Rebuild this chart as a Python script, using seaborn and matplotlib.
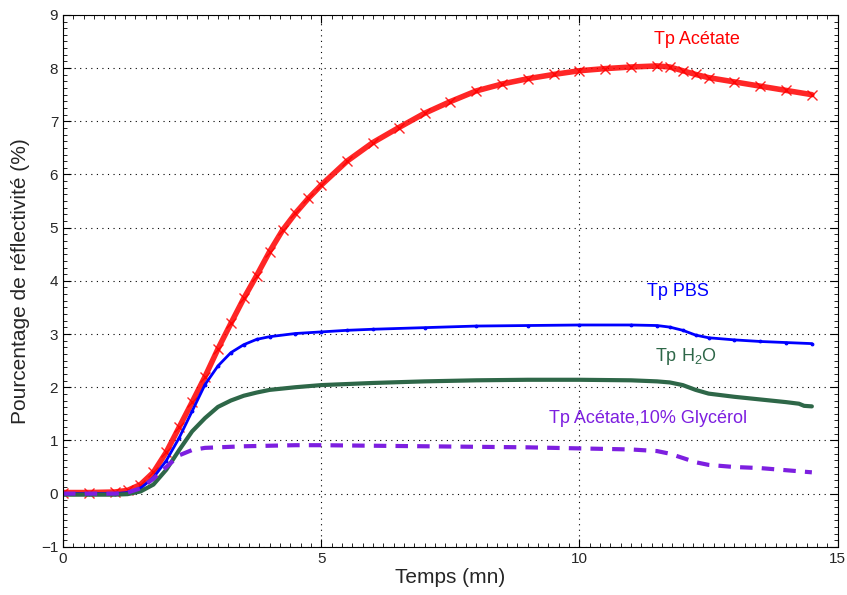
import matplotlib
matplotlib.use('Agg')
import matplotlib.pyplot as plt
import seaborn as sns
from matplotlib.ticker import AutoMinorLocator

# Temps (mn) et pourcentage de réflectivité
t_acetate = [0, 0.5, 1.0, 1.25, 1.5, 1.75, 2.0, 2.25, 2.5, 2.75, 3.0, 3.25, 3.5, 3.75,
             4.0, 4.25, 4.5, 4.75, 5.0, 5.5, 6.0, 6.5, 7.0, 7.5, 8.0, 8.5, 9.0, 9.5,
             10.0, 10.5, 11.0, 11.5, 11.75, 12.0, 12.25, 12.5, 13.0, 13.5, 14.0, 14.5]
y_acetate = [0.02, 0.02, 0.03, 0.06, 0.17, 0.40, 0.78, 1.25, 1.72, 2.20, 2.72, 3.20, 3.67, 4.10,
             4.55, 4.95, 5.27, 5.55, 5.80, 6.25, 6.60, 6.88, 7.15, 7.37, 7.57, 7.70, 7.80, 7.88,
             7.95, 7.99, 8.02, 8.04, 8.02, 7.95, 7.88, 7.82, 7.74, 7.66, 7.58, 7.50]

t_pbs = [0, 0.5, 1.0, 1.25, 1.5, 1.75, 2.0, 2.25, 2.5, 2.75, 3.0, 3.25, 3.5, 3.75, 4.0,
         4.5, 5.0, 5.5, 6.0, 7.0, 8.0, 9.0, 10.0, 11.0, 11.5, 11.75, 12.0, 12.25, 12.5,
         13.0, 13.5, 14.0, 14.5]
y_pbs = [0.0, 0.0, 0.0, 0.02, 0.10, 0.30, 0.62, 1.05, 1.55, 2.05, 2.40, 2.65, 2.80, 2.90, 2.95,
         3.01, 3.04, 3.07, 3.09, 3.12, 3.15, 3.16, 3.17, 3.17, 3.16, 3.13, 3.07, 2.98, 2.93,
         2.89, 2.86, 2.84, 2.82]

t_h2o = [0, 0.5, 1.0, 1.25, 1.5, 1.75, 2.0, 2.25, 2.5, 2.75, 3.0, 3.25, 3.5, 3.75, 4.0,
         4.5, 5.0, 5.5, 6.0, 7.0, 8.0, 9.0, 10.0, 11.0, 11.5, 11.75, 12.0, 12.25, 12.5,
         13.0, 13.5, 14.0, 14.25, 14.35, 14.5]
y_h2o = [-0.02, -0.02, -0.02, -0.01, 0.04, 0.17, 0.45, 0.82, 1.17, 1.42, 1.63, 1.75, 1.84, 1.90, 1.95,
         2.00, 2.04, 2.06, 2.08, 2.11, 2.13, 2.14, 2.14, 2.13, 2.11, 2.09, 2.04, 1.95, 1.88,
         1.82, 1.77, 1.72, 1.69, 1.65, 1.64]

t_glycerol = [0, 0.5, 1.0, 1.25, 1.5, 1.75, 2.0, 2.25, 2.5, 2.75, 3.0, 3.5, 4.0, 4.5, 5.0,
              6.0, 7.0, 8.0, 9.0, 10.0, 11.0, 11.5, 11.75, 12.0, 12.25, 12.5, 13.0, 13.5,
              14.0, 14.5]
y_glycerol = [0.0, 0.0, 0.0, 0.02, 0.10, 0.28, 0.50, 0.72, 0.82, 0.86, 0.87, 0.89, 0.90, 0.91, 0.91,
              0.90, 0.89, 0.88, 0.87, 0.85, 0.83, 0.80, 0.75, 0.67, 0.59, 0.54, 0.50, 0.48,
              0.44, 0.40]

sns.set_style('ticks')
plt.rcParams['font.family'] = ['Liberation Sans', 'DejaVu Sans']
plt.rcParams['mathtext.default'] = 'regular'

fig = plt.figure(figsize=(8.47, 5.95), dpi=100)
ax = fig.add_axes([0.0744, 0.081, 0.9146, 0.894])

red = '#ff0000'
blue = '#0000ff'
green = '#2e6748'
purple = '#7d1fe0'

sns.lineplot(x=t_acetate, y=y_acetate, ax=ax, color=red, linewidth=4, alpha=0.85,
             marker='x', markersize=7, markeredgewidth=1.0, markeredgecolor=red)
sns.lineplot(x=t_pbs, y=y_pbs, ax=ax, color=blue, linewidth=2,
             marker='.', markersize=4, markeredgecolor=blue)
sns.lineplot(x=t_h2o, y=y_h2o, ax=ax, color=green, linewidth=3)
sns.lineplot(x=t_glycerol, y=y_glycerol, ax=ax, color=purple, linewidth=3,
             linestyle=(0, (3, 2.2)))

# étiquettes des courbes
ax.text(12.27, 8.53, 'Tp Acétate', color=red, fontsize=13, ha='center', va='center')
ax.text(11.9, 3.8, 'Tp PBS', color=blue, fontsize=13, ha='center', va='center')
ax.text(12.06, 2.58, 'Tp H$_2$O', color=green, fontsize=13, ha='center', va='center')
ax.text(11.32, 1.41, 'Tp Acétate,10% Glycérol', color=purple, fontsize=13,
        ha='center', va='center')

ax.set_xlim(0, 15)
ax.set_ylim(-1, 9)
ax.set_xticks([0, 5, 10, 15])
ax.set_yticks(range(-1, 10))
ax.set_yticklabels(['\u22121'] + [str(v) for v in range(0, 10)])
ax.xaxis.set_minor_locator(AutoMinorLocator(25))
ax.yaxis.set_minor_locator(AutoMinorLocator(8))
ax.tick_params(which='both', direction='in', top=True, right=True, labelsize=11,
               color='black')
ax.tick_params(which='major', length=6, width=0.8)
ax.tick_params(which='minor', length=3, width=0.6)
for s in ax.spines.values():
    s.set_visible(True)
    s.set_linewidth(0.8)
    s.set_color('black')
ax.grid(True, which='major', linestyle=(0, (1, 4)), color='black', linewidth=0.8)

ax.set_xlabel('Temps (mn)', fontsize=15, labelpad=2)
ax.set_ylabel('Pourcentage de réflectivité (%)', fontsize=15, labelpad=8)

plt.savefig('out.png', dpi=100, facecolor='white')
plt.close()
